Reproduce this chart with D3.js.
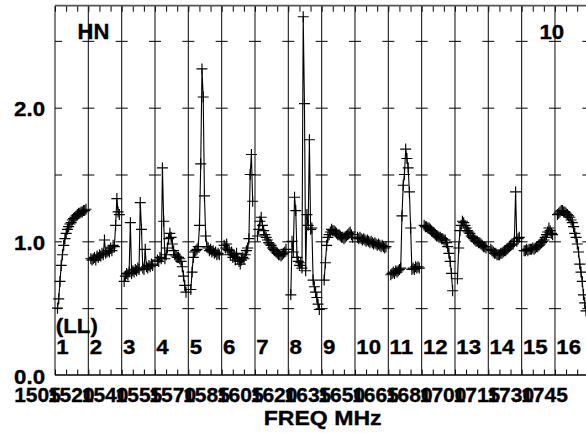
<!DOCTYPE html>
<html><head><meta charset="utf-8">
<script src="https://cdn.jsdelivr.net/npm/d3@7"></script>
<style>body{margin:0;background:#fff}svg{display:block}</style>
</head><body><svg id="c" width="586" height="433"></svg>
<script>
// ---------- data ----------
const channelNames = ["1","2","3","4","5","6","7","8","9","10","11","12","13","14","15","16"];
const freqLabels = ["1505","1520","1540","1555","1570","1585","1605","1620","1635","1650","1665","1680","1700","1715","1730","1745"];
const yGridTicks = [0.5, 1.0, 1.5, 2.0, 2.5];
const yLabelTicks = [0.0, 1.0, 2.0];
const yLabelText = ["0.0", "1.0", "2.0"];
const sourceName = "HN";
const pageLabel = "10";
const polLabel = "(LL)";
const xTitle = "FREQ MHz";

const ch1  = [0.50,0.57,0.70,0.82,0.90,0.97,1.02,1.06,1.09,1.11,1.13,1.14,1.16,1.17,1.18,1.19,1.20,1.21,1.21,1.22,1.22,1.23,1.23,1.24];
const ch2  = [0.87,0.86,0.87,0.88,0.86,0.89,0.88,0.90,0.89,0.91,0.90,1.01,0.91,0.92,0.93,0.92,0.95,0.93,0.97,0.96,1.12,1.32,1.22,1.20];
const ch3  = [0.70,0.74,0.76,0.75,0.77,1.14,0.76,0.78,0.77,0.79,0.78,0.80,0.79,1.29,1.09,0.80,0.79,0.94,0.81,0.80,0.82,0.81,0.83,0.82];
const ch4  = [0.86,0.85,0.88,0.87,1.55,1.15,0.87,0.90,0.95,1.02,1.06,1.03,0.98,0.93,0.90,0.89,0.88,0.88,0.87,0.85,0.81,0.74,0.67,0.62];
const ch5  = [0.64,0.77,0.88,0.92,0.93,0.94,0.96,1.12,1.58,2.29,2.08,1.34,1.04,0.96,0.95,0.93,0.94,0.92,0.93,0.91,0.92,0.90,0.91,0.90];
const ch6  = [0.97,0.95,0.98,0.94,0.93,0.90,0.92,0.88,0.90,0.86,0.91,0.87,0.85,0.83,0.86,0.88,0.87,0.90,0.93,0.95,1.02,1.50,1.65,1.30];
const ch7  = [1.04,1.09,1.15,1.18,1.12,1.08,1.05,1.03,1.01,0.99,0.98,0.97,0.95,0.94,0.93,0.92,0.91,0.90,0.90,0.89,0.90,0.91,0.92,0.94];
const ch8  = [0.60,1.00,0.92,1.33,1.23,0.88,0.85,0.82,0.84,0.80,2.68,2.03,0.78,1.20,1.12,1.76,1.09,1.10,0.71,0.66,0.62,0.58,0.53,0.49];
const ch9  = [0.71,0.84,0.97,1.03,1.05,1.07,1.09,1.08,1.08,1.07,1.06,1.05,1.05,1.04,1.03,1.03,1.02,1.03,1.04,1.05,1.06,1.07,1.05,1.03];
const ch10 = [1.03,1.02,1.03,1.02,1.01,1.02,1.01,1.00,1.01,1.00,0.99,1.00,0.99,0.98,0.99,0.98,0.97,0.98,0.97,0.96,0.97,0.96,0.95,0.96];
const ch11 = [0.75,0.76,0.77,0.76,0.78,0.77,0.78,0.79,0.80,1.19,1.42,1.50,1.69,1.62,1.55,1.37,1.10,0.79,0.80,0.79,0.81,0.80,0.81,0.80];
const ch12 = [1.12,1.11,1.11,1.10,1.10,1.09,1.08,1.07,1.06,1.05,1.04,1.04,1.03,1.03,1.02,1.02,1.01,1.01,0.99,0.96,0.91,0.85,0.76,0.63];
const ch13 = [0.72,0.95,1.08,1.12,1.15,1.14,1.12,1.10,1.08,1.07,1.06,1.04,1.03,1.02,1.01,1.00,1.00,0.99,0.99,0.98,0.97,0.96,0.96,0.95];
const ch14 = [0.94,0.93,0.92,0.91,0.91,0.90,0.90,0.90,0.91,0.91,0.92,0.93,0.93,0.94,0.95,0.96,0.97,0.98,0.98,1.00,1.37,1.00,1.02,1.03];
const ch15 = [0.93,0.93,0.94,0.93,0.94,0.94,0.94,0.95,0.94,0.95,0.96,0.96,0.97,0.98,0.99,1.00,1.01,1.03,1.05,1.07,1.10,1.08,1.06,1.05];
const ch16 = [1.20,1.21,1.22,1.23,1.23,1.22,1.22,1.21,1.20,1.19,1.18,1.16,1.14,1.11,1.06,1.03,0.98,0.92,0.83,0.77,0.70,0.60,0.54,0.48];
const spectra = [ch1,ch2,ch3,ch4,ch5,ch6,ch7,ch8,ch9,ch10,ch11,ch12,ch13,ch14,ch15,ch16];

// ---------- layout ----------
const svg = d3.select("#c");
svg.append("rect").attr("width",586).attr("height",433).attr("fill","#fff");
const nWin = spectra.length;
const pLeft = 55, pRight = 588.3, pBottom = 375, pTop = 5.7;
const xWin = d3.scaleLinear().domain([0, nWin]).range([pLeft, pRight]);
const y = d3.scaleLinear().domain([0, 2.763]).range([pBottom, pTop]);
const nChan = ch1.length;
const chanFrac = d3.scaleLinear().domain([0, nChan - 1]).range([0.075, 0.93]);
const labelPos = d3.scaleLinear().domain([0, freqLabels.length - 1]).range([37.5, 544.5]);
const FONT = "'Liberation Sans', Arial, Helvetica, sans-serif";
const SX = 1.06;

function label(x, yy, txt, anchor, size, sx) {
  svg.append("text")
    .attr("transform", `translate(${x},${yy}) scale(${sx||SX},1)`)
    .attr("text-anchor", anchor || "start")
    .attr("font-family", FONT).attr("font-weight", "bold")
    .attr("font-size", size || 21).attr("fill", "#000")
    .attr("stroke", "#000").attr("stroke-width", 0.35)
    .text(txt);
}

// minor ticks top & bottom via axes
const minorVals = d3.range(0, nWin * 3 + 1).map(k => k / 3);
const gTop = svg.append("g").attr("transform", `translate(0,${pTop})`)
  .call(d3.axisTop(xWin).tickValues(minorVals).tickSize(-6).tickFormat(""));
const gBot = svg.append("g").attr("transform", `translate(0,${pBottom})`)
  .call(d3.axisBottom(xWin).tickValues(minorVals).tickSize(-5.5).tickFormat(""));
[gTop, gBot].forEach(g => {
  g.select(".domain").remove();
  g.selectAll(".tick line").attr("stroke", "#000").attr("stroke-width", 1);
});

// window boundary lines
svg.append("g").selectAll("line").data(d3.range(0, nWin + 1)).join("line")
  .attr("x1", d => xWin(d)).attr("x2", d => xWin(d))
  .attr("y1", pTop).attr("y2", pBottom)
  .attr("stroke", "#1a1a1a").attr("stroke-width", 1.1);

// y ticks at each boundary (crosses)
d3.range(0, nWin + 1).forEach(w => {
  if (w < nWin) {
    const g = svg.append("g").attr("transform", `translate(${xWin(w)},0)`)
      .call(d3.axisRight(y).tickValues(yGridTicks).tickSize(w === 0 ? 7 : 6).tickFormat(""));
    g.select(".domain").remove();
    g.selectAll(".tick line").attr("stroke", "#000").attr("stroke-width", 1);
  }
  if (w > 0) {
    const g = svg.append("g").attr("transform", `translate(${xWin(w)},0)`)
      .call(d3.axisLeft(y).tickValues(yGridTicks).tickSize(6).tickFormat(""));
    g.select(".domain").remove();
    g.selectAll(".tick line").attr("stroke", "#000").attr("stroke-width", 1);
  }
});

// spines
svg.append("line").attr("x1", pLeft).attr("x2", pRight).attr("y1", pTop).attr("y2", pTop)
  .attr("stroke", "#555").attr("stroke-width", 1.8);
svg.append("line").attr("x1", pLeft).attr("x2", pRight).attr("y1", pBottom).attr("y2", pBottom)
  .attr("stroke", "#000").attr("stroke-width", 1.6);

// spectra
const line = d3.line().x(d => d[0]).y(d => d[1]);
spectra.forEach((vals, i) => {
  const pts = vals.map((v, j) => [xWin(i + chanFrac(j)), y(v)]);
  svg.append("path").attr("d", line(pts)).attr("fill", "none")
    .attr("stroke", "#000").attr("stroke-width", 1.1);
  svg.append("g").selectAll("path").data(pts).join("path")
    .attr("d", d => `M${d[0]-5.5},${d[1]}H${d[0]+5.5}M${d[0]},${d[1]-5.5}V${d[1]+5.5}`)
    .attr("stroke", "#000").attr("stroke-width", 1.15).attr("fill", "none");
});

// texts
yLabelTicks.forEach((v, i) => label(45, y(v) + 8.8, yLabelText[i], "end"));
channelNames.forEach((c, i) => label(xWin(i) + 1.3, 353.5, c, "start"));
label(xWin(0) + 0.8, 333, polLabel, "start");
label(77.5, 39, sourceName, "start", 22, 1.0);
label(539.5, 39.3, pageLabel, "start");
freqLabels.forEach((f, i) => label(labelPos(i), 401.7, f, "middle", 21, 1.0));
label((pLeft + pRight) / 2 + 1, 424.5, xTitle, "middle", 21, 1.1);
</script></body></html>
